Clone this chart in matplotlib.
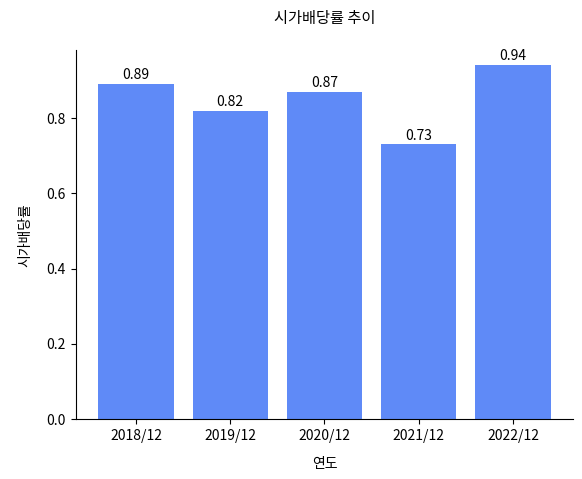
import matplotlib
matplotlib.use("Agg")
import matplotlib.pyplot as plt

plt.rcParams['font.family'] = ['Noto Sans CJK KR', 'DejaVu Sans']

years = ["2018/12", "2019/12", "2020/12", "2021/12", "2022/12"]
values = [0.89, 0.82, 0.87, 0.73, 0.94]

fig, ax = plt.subplots(figsize=(5.82, 4.79), dpi=100)
bars = ax.bar(years, values, color="#5f8af7", width=0.8)
for b, v in zip(bars, values):
    ax.text(b.get_x() + b.get_width()/2, v + 0.005, f"{v:.2f}", ha="center", va="bottom", fontsize=10)
ax.set_title("시가배당률 추이", fontsize=11, pad=20)
ax.set_xlabel("연도", fontsize=10, labelpad=10)
ax.set_ylabel("시가배당률", fontsize=10, labelpad=10)
ax.spines['top'].set_visible(False)
ax.spines['right'].set_visible(False)
ax.set_ylim(0, 0.98)
fig.subplots_adjust(left=0.13, right=0.985, top=0.895, bottom=0.125)
fig.savefig("out.png")
